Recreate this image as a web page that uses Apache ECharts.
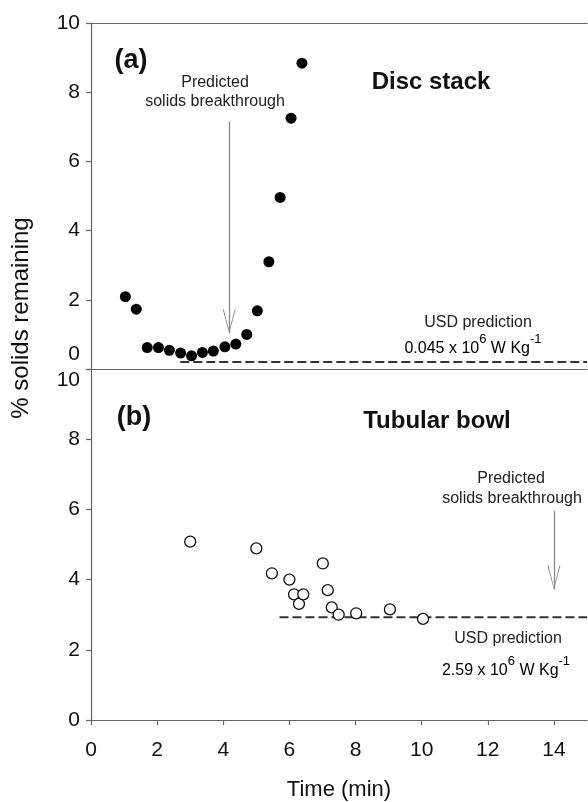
<!DOCTYPE html>
<html>
<head>
<meta charset="utf-8">
<script src="https://cdn.jsdelivr.net/npm/echarts@6/dist/echarts.min.js"></script>
<style>
html,body{margin:0;padding:0;background:#fff;}
#chart{width:588px;height:802px;}
</style>
</head>
<body>
<div id="chart"></div>
<script>
// Panel (a) Disc stack
const timeA = [1.04,1.37,1.70,2.04,2.37,2.71,3.04,3.37,3.70,4.05,4.38,4.71,5.03,5.38,5.72,6.05,6.38];
const solidsA = [2.09,1.73,0.62,0.62,0.54,0.46,0.38,0.48,0.52,0.64,0.72,1.00,1.68,3.10,4.96,7.25,8.84];
// Panel (b) Tubular bowl
const timeB = [3.0,5.0,5.47,6.0,6.14,6.29,6.42,7.01,7.16,7.28,7.49,8.02,9.04,10.04];
const solidsB = [5.08,4.89,4.18,4.00,3.58,3.31,3.58,4.46,3.70,3.21,3.00,3.04,3.15,2.88];
// USD prediction lines
const usdAX = [2.7, 15];
const usdAY = 0.2;
const usdBX = [5.7, 15];
const usdBY = 2.93;
// Predicted breakthrough arrows [x, yStart, yEnd]
const arrowA = [4.18, 7.14, 1.03];
const arrowB = [14.0, 5.95, 3.72];
// Ticks
const xTicks = [0,2,4,6,8,10,12,14];
const yTicks = [0,2,4,6,8,10];

const FONT = "'Liberation Sans', Arial, sans-serif";
const AX = '#666';
const TXT = '#111';
const arrowPath = 'path://M0,0L13,48L11,48L0,5L-11,48L-13,48Z';

const chart = echarts.init(document.getElementById('chart'), null, {renderer:'canvas'});

function yAxisCfg(grid, shiftVal, pad) {
  return {
    type:'value', gridIndex:grid, min:0, max:10, interval:2,
    axisLine:{show:true, lineStyle:{color:AX, width:1.2}},
    axisTick:{show:true, inside:false, length:5, lineStyle:{color:AX, width:1.2}},
    splitLine:{show:false},
    axisLabel:{
      margin:11, color:TXT, fontSize:21, fontFamily:FONT,
      formatter: v => (v === shiftVal ? '{s|' + v + '}' : '{n|' + v + '}'),
      rich:{
        n:{fontSize:21, fontFamily:FONT, color:TXT},
        s:{fontSize:21, fontFamily:FONT, color:TXT, padding:pad}
      }
    }
  };
}

const sup = {fontSize:13, lineHeight:13, verticalAlign:'top', fontFamily:FONT, color:'#222'};
const base = {fontSize:16, lineHeight:24, verticalAlign:'bottom', fontFamily:FONT, color:'#222'};

function txt(x, y, text, size, bold) {
  return {
    type:'text', x:x, y:y, z:100,
    style:{text:text, fill: bold ? '#111' : '#222', font:(bold?'bold ':'') + size + 'px ' + FONT, align:'center', verticalAlign:'middle'}
  };
}

function richTxt(x, y, text) {
  return {
    type:'text', x:x, y:y, z:100,
    style:{text:text, align:'center', verticalAlign:'middle', rich:{b:base, sup:sup}}
  };
}

const option = {
  animation:false,
  backgroundColor:'#fff',
  grid:[
    {left:91, top:23, width:496, height:346},
    {left:91, top:369, width:496, height:354}
  ],
  xAxis:[
    {type:'value', gridIndex:0, min:0, max:15, position:'bottom',
     axisLine:{show:true, lineStyle:{color:AX, width:1.2}}, axisTick:{show:false}, axisLabel:{show:false}, splitLine:{show:false}},
    {type:'value', gridIndex:0, min:0, max:15, position:'top',
     axisLine:{show:true, lineStyle:{color:AX, width:1.2}}, axisTick:{show:false}, axisLabel:{show:false}, splitLine:{show:false}},
    {type:'value', gridIndex:1, min:0, max:15, interval:2, position:'bottom',
     axisLine:{show:true, lineStyle:{color:AX, width:1.2}},
     axisTick:{show:true, inside:false, length:5, lineStyle:{color:AX, width:1.2}},
     axisLabel:{show:true, margin:20, color:TXT, fontSize:21, fontFamily:FONT, showMaxLabel:false,
       formatter: v => (xTicks.indexOf(v) >= 0 ? String(v) : '')},
     splitLine:{show:false},
     name:'Time (min)', nameLocation:'middle', nameGap:59,
     nameTextStyle:{fontSize:22, fontFamily:FONT, color:TXT}}
  ],
  yAxis:[
    yAxisCfg(0, 0, [0,0,30,0]),
    yAxisCfg(1, 10, [22,0,0,0])
  ],
  series:[
    {
      type:'scatter', xAxisIndex:0, yAxisIndex:0,
      data: timeA.map((t,i) => [t, solidsA[i]]),
      symbol:'circle', symbolSize:11,
      itemStyle:{color:'#000', opacity:1},
      markLine:{
        silent:true, animation:false,
        symbol:['none', arrowPath], symbolSize:[13,24], symbolOffset:[0,[0,12]],
        lineStyle:{color:'#888', width:1.3, type:'solid'},
        label:{show:false},
        data:[[{coord:[arrowA[0], arrowA[1]]},{coord:[arrowA[0], arrowA[2]]}]]
      }
    },
    {
      type:'line', xAxisIndex:0, yAxisIndex:0,
      data: usdAX.map(x => [x, usdAY]),
      symbol:'none', lineStyle:{color:'#333', width:2, type:[9,4]}
    },
    {
      type:'scatter', xAxisIndex:2, yAxisIndex:1,
      data: timeB.map((t,i) => [t, solidsB[i]]),
      symbol:'circle', symbolSize:11,
      itemStyle:{color:'#fff', borderColor:'#111', borderWidth:1.3, opacity:1},
      markLine:{
        silent:true, animation:false,
        symbol:['none', arrowPath], symbolSize:[13,24], symbolOffset:[0,[0,12]],
        lineStyle:{color:'#888', width:1.3, type:'solid'},
        label:{show:false},
        data:[[{coord:[arrowB[0], arrowB[1]]},{coord:[arrowB[0], arrowB[2]]}]]
      }
    },
    {
      type:'line', xAxisIndex:2, yAxisIndex:1,
      data: usdBX.map(x => [x, usdBY]),
      symbol:'none', lineStyle:{color:'#333', width:2, type:[9,4]}, z:1
    }
  ],
  graphic:[
    txt(131, 61, '(a)', 27, true),
    txt(431, 82, 'Disc stack', 24, true),
    txt(215, 83, 'Predicted', 16, false),
    txt(215, 102, 'solids breakthrough', 16, false),
    txt(478, 323, 'USD prediction', 16, false),
    richTxt(473, 345, '{b|0.045 x 10}{sup|6}{b| W Kg}{sup|-1}'),
    txt(134, 418, '(b)', 27, true),
    txt(437, 421, 'Tubular bowl', 24, true),
    txt(511, 479, 'Predicted', 16, false),
    txt(512, 499, 'solids breakthrough', 16, false),
    txt(508, 639, 'USD prediction', 16, false),
    richTxt(506, 667, '{b|2.59 x 10}{sup|6}{b| W Kg}{sup|-1}'),
    {type:'text', x:21, y:318, rotation:Math.PI/2, z:100,
     style:{text:'% solids remaining', fill:TXT, font:'24px '+FONT, align:'center', verticalAlign:'middle'}}
  ]
};
chart.setOption(option);
</script>
</body>
</html>
